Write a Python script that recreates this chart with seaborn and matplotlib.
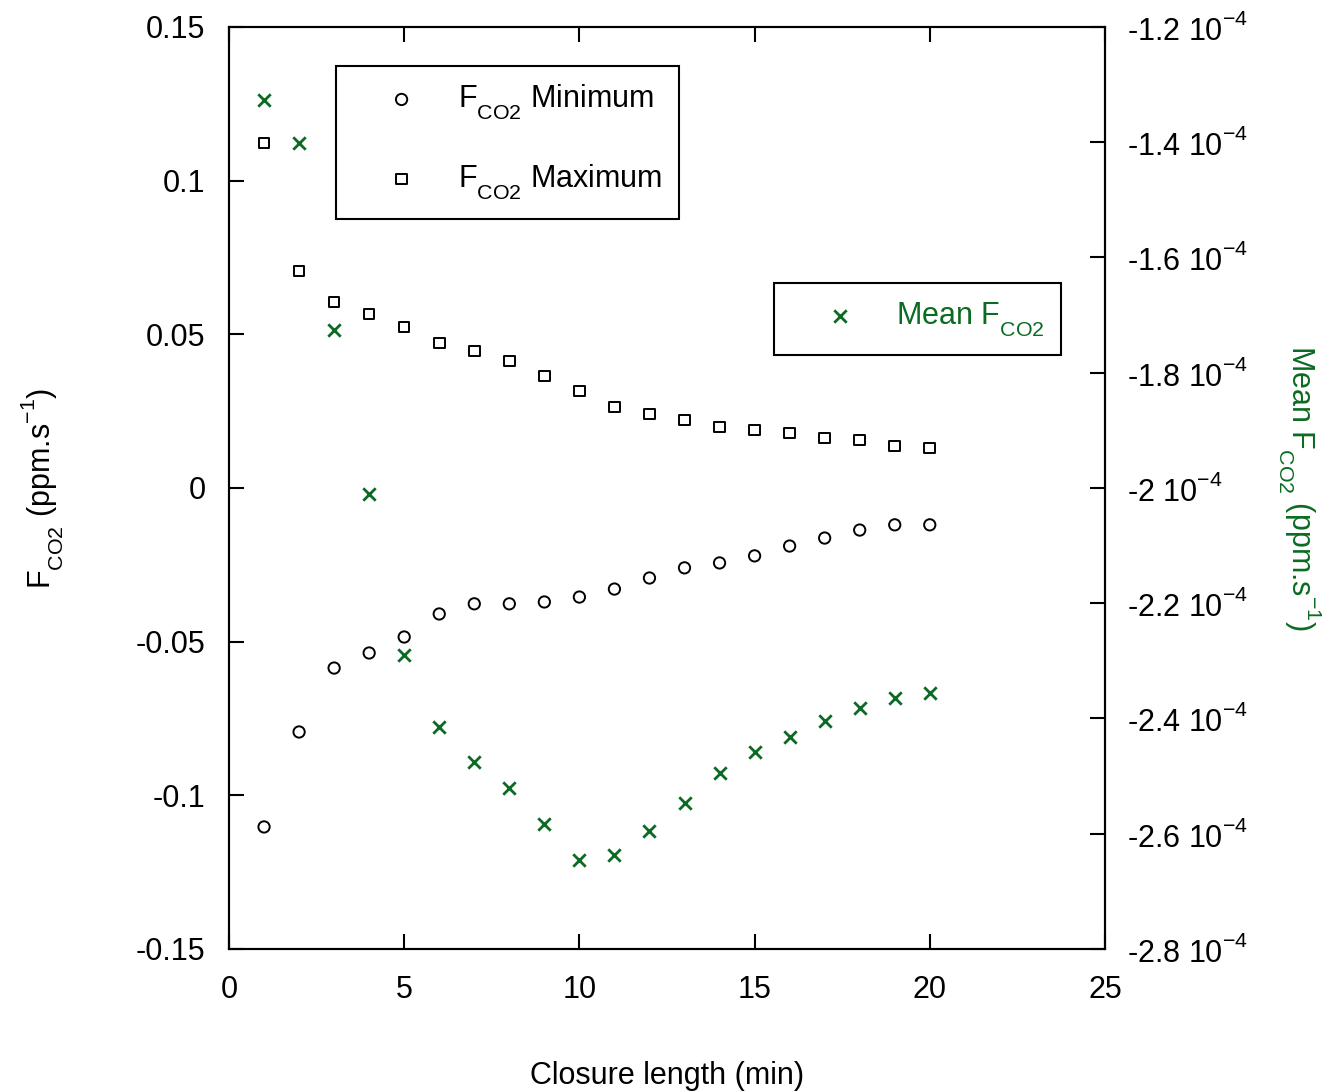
import numpy as np
import matplotlib
matplotlib.use("Agg")
import matplotlib.pyplot as plt
import matplotlib.ticker as mticker
import seaborn as sns

# ── Data ────────────────────────────────────────────────────────────
closure_min = [1, 2, 3, 4, 5, 6, 7, 8, 9, 10, 11, 12, 13, 14, 15, 16, 17, 18, 19, 20]

fco2_minimum = [-0.1103, -0.0794, -0.0586, -0.0537, -0.0485, -0.0410, -0.0377, -0.0377,
                -0.0371, -0.0355, -0.0329, -0.0293, -0.0260, -0.0244, -0.0221, -0.0189,
                -0.0163, -0.0137, -0.0120, -0.0120]

fco2_maximum = [0.1123, 0.0706, 0.0605, 0.0566, 0.0524, 0.0472, 0.0446, 0.0413,
                0.0364, 0.0316, 0.0264, 0.0241, 0.0221, 0.0198, 0.0189, 0.0179,
                0.0163, 0.0156, 0.0137, 0.0130]

# mean flux, in units of 1e-4 ppm/s
fco2_mean_e4 = [-1.327, -1.401, -1.726, -2.010, -2.290, -2.415, -2.476, -2.521,
                -2.583, -2.646, -2.637, -2.595, -2.547, -2.495, -2.458, -2.432,
                -2.404, -2.382, -2.364, -2.356]
fco2_mean = [v * 1e-4 for v in fco2_mean_e4]

right_ticks_e4 = [-1.2, -1.4, -1.6, -1.8, -2.0, -2.2, -2.4, -2.6, -2.8]

GREEN = "#0b6b22"
FS = 22

# ── Style ───────────────────────────────────────────────────────────
sns.set_style("white")
plt.rcParams.update({
    "font.family": ["Liberation Sans", "DejaVu Sans"],
    "mathtext.fontset": "custom",
    "mathtext.rm": "Liberation Sans",
    "mathtext.it": "Liberation Sans:italic",
    "mathtext.bf": "Liberation Sans:bold",
    "axes.linewidth": 1.5,
    "text.color": "black",
    "axes.labelcolor": "black",
    "xtick.color": "black",
    "ytick.color": "black",
})

# push subscripts lower / superscripts higher, closer to the original look
try:
    from matplotlib import _mathtext
    _mathtext.FontConstantsBase.sub1 = 0.75
    _mathtext.FontConstantsBase.sub2 = 0.9
    _mathtext.FontConstantsBase.sup1 = 0.9
except Exception:
    pass

fig = plt.figure(figsize=(13.4, 10.91), dpi=100)
ax = fig.add_axes([0.1709, 0.1302, 0.6537, 0.8451])
ax2 = ax.twinx()

sns.scatterplot(x=closure_min, y=fco2_minimum, marker="o", s=66,
                facecolor="none", edgecolor="black", linewidth=1.4,
                label=r"F$_{\mathrm{CO2}}$ Minimum", ax=ax)
sns.scatterplot(x=closure_min, y=fco2_maximum, marker="s", s=58,
                facecolor="none", edgecolor="black", linewidth=1.4,
                label=r"F$_{\mathrm{CO2}}$ Maximum", ax=ax)
sns.scatterplot(x=closure_min, y=fco2_mean, marker="x", s=80,
                color=GREEN, linewidth=2.0,
                label=r"Mean F$_{\mathrm{CO2}}$", ax=ax2)

ax.set_xlim(0, 25)
ax.set_ylim(-0.15, 0.15)
ax2.set_ylim(-2.8e-4, -1.2e-4)

ax.set_xticks([0, 5, 10, 15, 20, 25])
ax.set_yticks([-0.15, -0.1, -0.05, 0, 0.05, 0.1, 0.15])
ax.yaxis.set_major_formatter(mticker.FuncFormatter(lambda v, p: f"{v:g}" if abs(v) > 1e-9 else "0"))
ax2.set_yticks([v * 1e-4 for v in right_ticks_e4])
ax2.yaxis.set_major_formatter(mticker.FuncFormatter(
    lambda v, p: f"{v * 1e4:g} 10$^{{-4}}$"))

ax.tick_params(axis="x", direction="in", length=11, width=1.5, labelsize=FS,
               pad=19, top=True, bottom=True)
ax.tick_params(axis="y", direction="in", length=11, width=1.5, labelsize=FS,
               pad=17, left=True, right=False)
ax2.tick_params(axis="y", direction="in", length=11, width=1.5, labelsize=FS,
                pad=16, right=True)

for a in (ax, ax2):
    for s in a.spines.values():
        s.set_color("black")
        s.set_linewidth(1.5)

ax.set_xlabel("Closure length (min)", fontsize=FS, labelpad=40)
ax.set_ylabel(r"F$_{\mathrm{CO2}}$ (ppm.s$^{-1}$)", fontsize=FS, labelpad=50)
ax2.set_ylabel(r"Mean F$_{\mathrm{CO2}}$ (ppm.s$^{-1}$)", fontsize=FS,
               color=GREEN, rotation=270, labelpad=54)

leg_kw = dict(loc="upper left", fontsize=FS, frameon=True, fancybox=False,
              edgecolor="black", framealpha=1, borderpad=0.55, handletextpad=0.25,
              borderaxespad=0, handlelength=3.2)

leg1 = ax.legend(bbox_to_anchor=(0.122, 0.958), labelspacing=1.3, **leg_kw)
leg1.get_frame().set_linewidth(1.5)

leg2 = ax2.legend(bbox_to_anchor=(0.622, 0.7223), **leg_kw)
leg2.get_frame().set_linewidth(1.5)
for t in leg2.get_texts():
    t.set_color(GREEN)

fig.savefig("out.png", dpi=100)
plt.close(fig)
